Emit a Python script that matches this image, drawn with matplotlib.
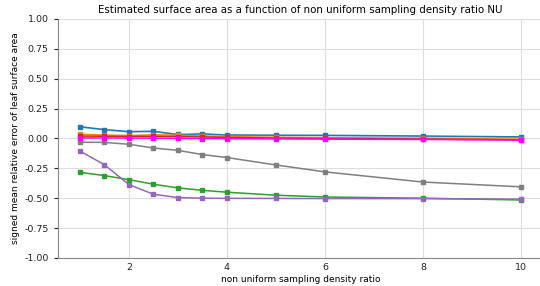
import matplotlib
matplotlib.use("Agg")
import matplotlib.pyplot as plt
import numpy as np

nu = [1, 1.5, 2, 2.5, 3, 3.5, 4, 5, 6, 8, 10]

blue = [0.098, 0.074, 0.057, 0.060, 0.033, 0.038, 0.029, 0.027, 0.026, 0.020, 0.013]
orange = [0.035, 0.028, 0.024, 0.030, 0.027, 0.020, 0.015, 0.010, 0.006, 0.002, -0.006]
red = [0.020, 0.018, 0.016, 0.018, 0.016, 0.012, 0.008, 0.003, 0.000, -0.005, -0.012]
magenta = [0.004, 0.004, 0.003, 0.002, 0.001, -0.001, -0.002, -0.004, -0.006, -0.009, -0.014]
gray = [-0.032, -0.033, -0.049, -0.080, -0.100, -0.135, -0.160, -0.222, -0.280, -0.365, -0.405]
purple = [-0.105, -0.220, -0.386, -0.467, -0.495, -0.500, -0.501, -0.502, -0.503, -0.504, -0.508]
green = [-0.283, -0.311, -0.345, -0.383, -0.414, -0.434, -0.450, -0.475, -0.490, -0.500, -0.515]

series = [(blue, "#1f77b4"), (orange, "#ff7f0e"), (green, "#2ca02c"),
          (red, "#d62728"), (purple, "#9467bd"), (gray, "#7f7f7f"),
          (magenta, "#ff00ff")]

fig = plt.figure(figsize=(5.4, 2.86), dpi=100)
ax = fig.add_axes([0.107, 0.098, 0.899, 0.836])

for vals, c in series:
    v = np.array(vals)
    if c in ("#1f77b4", "#ff7f0e"):
        ax.fill_between(nu, v - 0.006, v + 0.006, color=c, alpha=0.3, lw=0)
    ax.plot(nu, v, color=c, lw=1.1, marker="s", ms=2.2)

ax.set_ylim(-1, 1)
ax.set_xlim(0.55, 10.45)
ax.set_xticks([2, 4, 6, 8, 10])
ax.set_yticks(np.arange(-1, 1.01, 0.25))
ax.yaxis.set_major_formatter(matplotlib.ticker.FormatStrFormatter("%.2f"))
ax.grid(True, color="#dddddd", lw=0.8)
ax.set_axisbelow(True)
for s in ["top", "right"]:
    ax.spines[s].set_visible(False)
for s in ["left", "bottom"]:
    ax.spines[s].set_color("#888888")
ax.tick_params(labelsize=6.8, colors="#222222", length=3)
ax.tick_params(axis="x", length=0)
ax.set_title("Estimated surface area as a function of non uniform sampling density ratio NU", fontsize=7.4, pad=4)
ax.set_xlabel("non uniform sampling density ratio", fontsize=6.5, labelpad=2)
ax.set_ylabel("signed mean relative error of leaf surface area", fontsize=6.5, labelpad=3)

fig.savefig("out.png", dpi=100)
